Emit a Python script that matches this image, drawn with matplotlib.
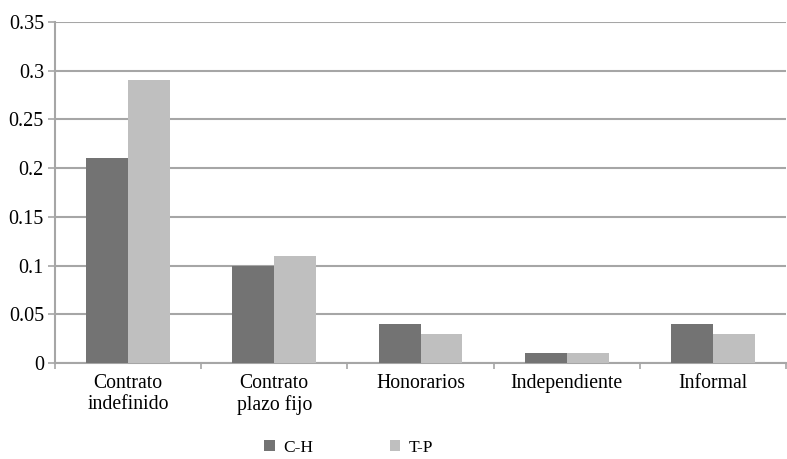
import numpy as np
import matplotlib
matplotlib.use("Agg")
import matplotlib.pyplot as plt

plt.rcParams['font.family'] = ['Liberation Serif', 'DejaVu Serif']

categories = ["Contrato\nindefinido", "Contrato\nplazo fijo", "Honorarios", "Independiente", "Informal"]
ch_values = [0.21, 0.10, 0.04, 0.01, 0.04]
tp_values = [0.29, 0.11, 0.03, 0.01, 0.03]
series_names = ["C-H", "T-P"]

dark = "#737373"
light = "#bfbfbf"
grid_col = "#a6a6a6"

fig = plt.figure(figsize=(7.87, 4.59), dpi=100)
ax = fig.add_axes([55 / 787, 96 / 459, 731 / 787, 341 / 459])

x = np.arange(len(categories))
w = 0.286
ax.bar(x - w / 2, ch_values, width=w, color=dark, label=series_names[0], zorder=3)
ax.bar(x + w / 2, tp_values, width=w, color=light, label=series_names[1], zorder=3)

ax.set_xlim(-0.5, len(categories) - 0.5)
ax.set_ylim(0, 0.35)
ax.set_yticks(np.arange(0, 0.351, 0.05))
ax.set_yticklabels(["0", "0.05", "0.1", "0.15", "0.2", "0.25", "0.3", "0.35"])
ax.yaxis.grid(True, color=grid_col, linewidth=1.5, zorder=0)
ax.set_axisbelow(True)

# category labels centred, tick marks at the group boundaries
ax.set_xticks(x)
ax.set_xticklabels(categories, fontsize=14.2, linespacing=1.15)
ax.tick_params(axis='x', length=0, pad=8)
ax.set_xticks(np.arange(-0.5, len(categories), 1), minor=True)
ax.tick_params(axis='x', which='minor', length=4, color=grid_col, width=1.2)
ax.tick_params(axis='y', labelsize=14.5, length=5, color=grid_col, width=1.2, pad=3)

for s in ["top", "right"]:
    ax.spines[s].set_visible(False)
ax.spines["left"].set_color(grid_col)
ax.spines["bottom"].set_color(grid_col)
ax.spines["left"].set_linewidth(1.5)
ax.spines["bottom"].set_linewidth(1.5)

fig.legend(loc="center", bbox_to_anchor=(0.443, 0.024), ncol=2, frameon=False,
           fontsize=12.5, handlelength=0.6, handleheight=0.6, handletextpad=0.5,
           columnspacing=4.4, borderpad=0.2)

fig.savefig("out.png", dpi=100)
